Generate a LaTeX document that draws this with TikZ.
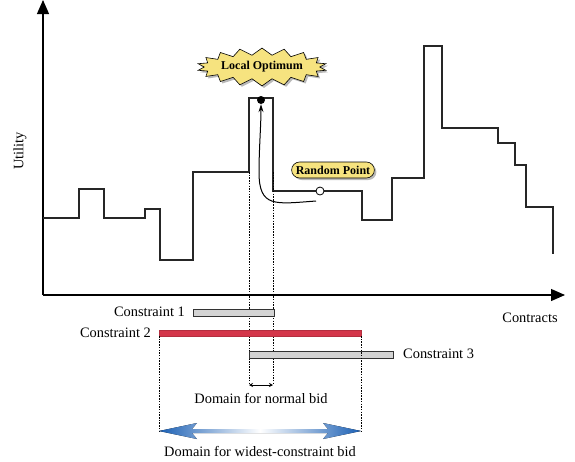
\documentclass[tikz,border=0pt]{standalone}
\usepackage{fontspec}
\setmainfont{Liberation Serif}
\usetikzlibrary{arrows.meta,shapes.symbols,shapes.misc,shadows}
\definecolor{labelyellow}{HTML}{F6E37F}
\definecolor{conred}{HTML}{D4364A}
\definecolor{congray}{HTML}{D4D4D4}
\definecolor{arrowblue}{HTML}{1A5FB4}
\begin{document}
\begin{tikzpicture}[x=1pt,y=-1pt,
  lbl/.style={font=\fontsize{14.4}{17}\selectfont, inner sep=0pt},
  tag/.style={font=\fontsize{12}{14}\selectfont\bfseries, fill=labelyellow, draw=black, line width=0.6pt,
    drop shadow={opacity=0.55, shadow xshift=2pt, shadow yshift=-2pt}},
  bar/.style={draw=black!80, line width=0.6pt},
  stepline/.style={line width=1.1pt, draw=black!85},
  guide/.style={dash pattern=on 1.5pt off 1.2pt, line width=1pt},
  axis/.style={line width=1.2pt, -{Triangle[length=14pt,width=12pt]}},
]
\useasboundingbox (0,0) rectangle (575,461);
% axes
\coordinate (O) at (43,295);
\coordinate (ytop) at (43,0);
\coordinate (xend) at (565,295);
\draw[axis] (O) -- (ytop);
\draw[axis] (O) -- (xend);
\node[lbl, rotate=90] (util) at (20,151) {Utility};
\node[lbl] (contr) at (530,318) {Contracts};
% utility step function
\draw[stepline] (43,218) -| (79,189) -| (104,218) -| (145,209) -| (160,260) -| (193,172)
  -| (249,98) -| (273,191) -| (362,220) -| (392,178) -| (424,46) -| (442,128)
  -| (498,143) -| (515,165) -| (526,207) -| (553,254);
% guides for normal bid
\coordinate (nlt) at (249,172);
\coordinate (nrt) at (273,172);
\coordinate (nl) at (249,385);
\coordinate (nr) at (273,385);
\draw[guide] (nlt) -- (nl);
\draw[guide] (nrt) -- (nr);
\draw[{Stealth[length=4pt,width=4pt]}-{Stealth[length=4pt,width=4pt]}, line width=0.8pt] (nl) -- (nr);
\node[lbl] (normal) at (261,398) {Domain for normal bid};
% constraints
\draw[bar, fill=congray] (193,309) rectangle (274,316);
\draw[line width=0.6pt, draw=conred!85!black, fill=conred] (159,330) rectangle (361,336);
\draw[bar, fill=congray] (249,351) rectangle (393,358);
\node[lbl, anchor=east] (c1) at (185,312) {Constraint 1};
\node[lbl, anchor=east] (c2) at (151,333) {Constraint 2};
\node[lbl, anchor=west] (c3) at (403,354) {Constraint 3};
% guides for widest bid
\coordinate (wlt) at (159,336);
\coordinate (wrt) at (361,336);
\coordinate (wl) at (159,431);
\coordinate (wr) at (361,431);
\draw[guide] (wlt) -- (wl);
\draw[guide] (wrt) -- (wr);
\fill[left color=arrowblue, right color=arrowblue, middle color=white]
  (wl) -- (197,423) -- (192,429) -- (328,429) -- (323,423) -- (wr)
  -- (323,439) -- (328,433) -- (192,433) -- (197,439) -- cycle;
\node[lbl] (wide) at (260,451) {Domain for widest-constraint bid};
% points
\node[circle, fill=black, minimum size=8pt, inner sep=0pt] (opt) at (261,100) {};
\node[circle, draw=black, line width=0.8pt, fill=white, minimum size=8pt, inner sep=0pt] (rp) at (320,191) {};
\coordinate (cs) at (316,201);
\draw[line width=1pt, -{Stealth[length=8pt,width=5pt]}] (cs) .. controls (275,204) and (259,208) .. (259,172)
  .. controls (259,150) and (261,125) .. (opt.south);
% labels
\node[tag, starburst, random starburst=0, starburst points=18, starburst point height=7pt, inner xsep=0pt, inner ysep=3pt] (lo) at (262,67) {Local Optimum};
\node[tag, rounded rectangle, minimum height=16pt, inner ysep=1pt, inner xsep=3pt] (rpl) at (333,170) {Random Point};
\end{tikzpicture}
\end{document}
